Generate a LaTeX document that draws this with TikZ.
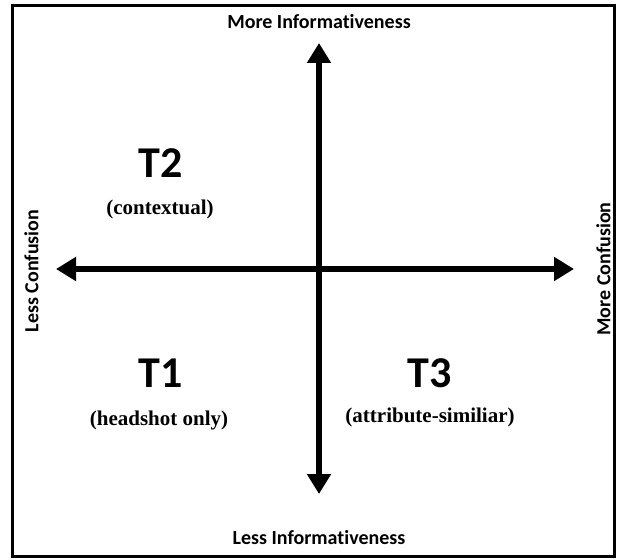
\documentclass[tikz,border=0pt]{standalone}
\usepackage{fontspec}
\setmainfont{Liberation Serif}
\newfontfamily\labfont[Ligatures=NoCommon]{Carlito}
\usetikzlibrary{arrows.meta}
\tikzset{
  axis/.style={line width=6.5pt, -{Triangle[width=23pt,length=20pt]}},
  axislabel/.style={font=\labfont\bfseries\fontsize{20}{22}\selectfont, inner sep=0pt},
  quadname/.style={font=\labfont\bfseries\fontsize{44}{48}\selectfont, inner sep=0pt},
  quaddesc/.style={font=\bfseries\fontsize{21}{24}\selectfont, inner sep=0pt},
  frame/.style={line width=2.2pt, draw=black}
}
\begin{document}
\begin{tikzpicture}[x=1pt,y=-1pt]
\useasboundingbox (0,0) rectangle (617,559);
\draw[frame] (12.5,5.5) rectangle (614.5,556.5);
\coordinate (c) at (319,269);
\coordinate (top) at (319,43);
\coordinate (bot) at (319,494);
\coordinate (lft) at (56,269);
\coordinate (rgt) at (574,269);
\draw[axis] (c) -- (top);
\draw[axis] (c) -- (bot);
\draw[axis] (c) -- (lft);
\draw[axis] (c) -- (rgt);
\node[axislabel] (mi) at (319,22) {More Informativeness};
\node[axislabel] (li) at (319,538) {Less Informativeness};
\node[axislabel, rotate=90] (lc) at (31.5,271) {Less Confusion};
\node[axislabel, rotate=90] (mc) at (603.5,269) {More Confusion};
\node[quadname] (t2) at (161,163) {T2};
\node[quaddesc] (t2d) at (160,209) {(contextual)};
\node[quadname] (t1) at (161,373) {T1};
\node[quaddesc] (t1d) at (159,420) {(headshot only)};
\node[quadname] (t3) at (430,373) {T3};
\node[quaddesc] (t3d) at (430,417) {(attribute-similiar)};
\end{tikzpicture}
\end{document}
